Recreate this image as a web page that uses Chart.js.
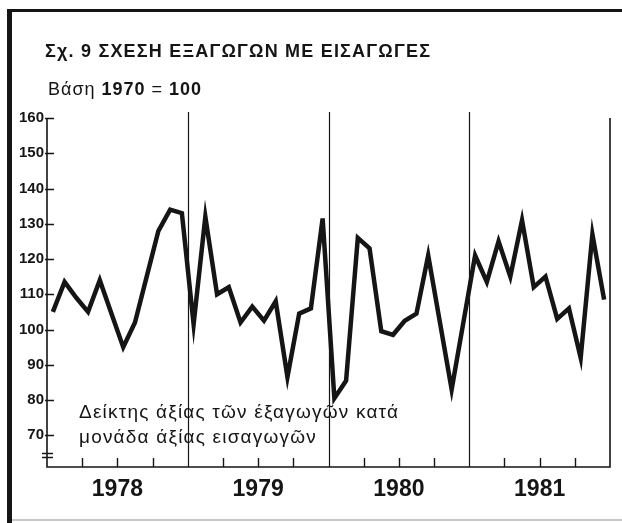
<!DOCTYPE html>
<html>
<head>
<meta charset="utf-8">
<script src="https://cdn.jsdelivr.net/npm/chart.js@4.4.1/dist/chart.umd.min.js"></script>
<style>
  html, body { margin: 0; padding: 0; background: #fff; }
</style>
</head>
<body>
<canvas id="chart" width="622" height="523"></canvas>
<script>
// monthly index, 1978-1981 (1970 = 100)
const years = ["1978", "1979", "1980", "1981"];
const yTicks = [70, 80, 90, 100, 110, 120, 130, 140, 150, 160];
const ratio = [
  105, 113.5, 109, 105, 114, 104.5, 95, 102, 115, 128, 134, 133,
  101.5, 132, 110, 112, 102, 106.5, 102.5, 108, 86.5, 104.5, 106, 131.5,
  80.5, 85.5, 126, 123, 99.5, 98.5, 102.5, 104.5, 121, 102, 83, 102,
  121, 113.5, 125, 115, 131, 112, 115, 103, 106, 92, 127, 108.5
];
const title = "Σχ. 9 ΣΧΕΣΗ ΕΞΑΓΩΓΩΝ ΜΕ ΕΙΣΑΓΩΓΕΣ";
const baseParts = [["Βάση ", "normal"], ["1970", "bold"], [" = ", "normal"], ["100", "bold"]];
const note = ["Δείκτης άξίας τῶν έξαγωγῶν κατά", "μονάδα άξίας εισαγωγῶν"];

const ink = "#151515";
const face = "'Liberation Sans', 'DejaVu Sans', sans-serif";

const decor = {
  id: "decor",
  beforeDraw(chart) {
    const ctx = chart.ctx;
    ctx.save();
    ctx.fillStyle = "#fff";
    ctx.fillRect(0, 0, chart.width, chart.height);
    // page frame
    ctx.fillStyle = ink;
    ctx.fillRect(7, 9, chart.width - 7, 3);
    ctx.fillRect(7, 9, 5, chart.height - 9);
    ctx.fillStyle = "#c8c8c8";
    ctx.fillRect(12, 519, chart.width - 12, 2);

    ctx.fillStyle = ink;
    ctx.textBaseline = "alphabetic";
    ctx.font = "bold 18px " + face;
    ctx.letterSpacing = "1.2px";
    ctx.fillText(title, 45, 57);

    let x = 48;
    ctx.letterSpacing = "1px";
    baseParts.forEach(([txt, w]) => {
      ctx.font = w + " 18px " + face;
      ctx.fillText(txt, x, 95);
      x += ctx.measureText(txt).width;
    });

    ctx.font = "19px " + face;
    ctx.letterSpacing = "1.2px";
    ctx.fillText(note[0], 79, 418);
    ctx.fillText(note[1], 79, 443);
    ctx.restore();
  },
  afterDraw(chart) {
    const { ctx, chartArea: a, scales: { x, y } } = chart;
    const topY = y.getPixelForValue(yTicks[yTicks.length - 1]);
    ctx.save();
    ctx.strokeStyle = ink;
    ctx.lineWidth = 1.6;
    ctx.beginPath();
    ctx.moveTo(a.left, topY);
    ctx.lineTo(a.left, a.bottom);
    ctx.lineTo(a.right, a.bottom);
    ctx.lineTo(a.right, topY);
    ctx.stroke();

    // year dividers
    ctx.lineWidth = 1.2;
    ctx.beginPath();
    for (let k = 1; k < years.length; k++) {
      const px = Math.round(x.getPixelForValue(k * 12)) + 0.5;
      ctx.moveTo(px, topY - 6);
      ctx.lineTo(px, a.bottom);
    }
    ctx.stroke();

    // quarter ticks
    ctx.lineWidth = 1.4;
    ctx.beginPath();
    for (let q = 1; q < years.length * 4; q++) {
      if (q % 4 === 0) continue;
      const px = Math.round(x.getPixelForValue(q * 3)) + 0.5;
      ctx.moveTo(px, a.bottom);
      ctx.lineTo(px, a.bottom - 9);
    }
    ctx.stroke();

    // y ticks
    ctx.beginPath();
    yTicks.forEach(v => {
      const py = Math.round(y.getPixelForValue(v)) + 0.5;
      ctx.moveTo(a.left - 2, py);
      ctx.lineTo(a.left + 7, py);
    });
    // axis break
    ctx.moveTo(a.left - 5, a.bottom - 13.5);
    ctx.lineTo(a.left + 6, a.bottom - 13.5);
    ctx.moveTo(a.left - 5, a.bottom - 9.5);
    ctx.lineTo(a.left + 6, a.bottom - 9.5);
    ctx.stroke();
    ctx.restore();
  }
};

new Chart(document.getElementById("chart"), {
  type: "line",
  data: {
    datasets: [{
      data: ratio.map((v, i) => ({ x: i + 0.5, y: v })),
      borderColor: ink,
      borderWidth: 4.5,
      borderJoinStyle: "miter",
      pointRadius: 0,
      tension: 0,
      fill: false
    }]
  },
  options: {
    responsive: false,
    devicePixelRatio: 1,
    animation: false,
    layout: { padding: { left: 0, top: 118, right: 12, bottom: 0 } },
    plugins: { legend: { display: false }, tooltip: { enabled: false } },
    scales: {
      x: {
        type: "linear",
        min: 0,
        max: years.length * 12,
        grid: { display: false, drawTicks: false },
        border: { display: false },
        afterBuildTicks: s => { s.ticks = years.map((_, i) => ({ value: i * 12 + 6 })); },
        afterFit: s => { s.height = 56; },
        ticks: {
          autoSkip: false,
          maxRotation: 0,
          padding: 9,
          color: ink,
          font: { family: face, size: 23, weight: "bold" },
          callback: (v) => years[Math.floor(v / 12)]
        }
      },
      y: {
        min: 61,
        max: 160,
        grid: { display: false, drawTicks: false },
        border: { display: false },
        afterBuildTicks: s => { s.ticks = yTicks.map(v => ({ value: v })); },
        afterFit: s => { s.width = 47; },
        ticks: {
          padding: 3,
          color: ink,
          font: { family: face, size: 15, weight: "bold" }
        }
      }
    }
  },
  plugins: [decor]
});
</script>
</body>
</html>
